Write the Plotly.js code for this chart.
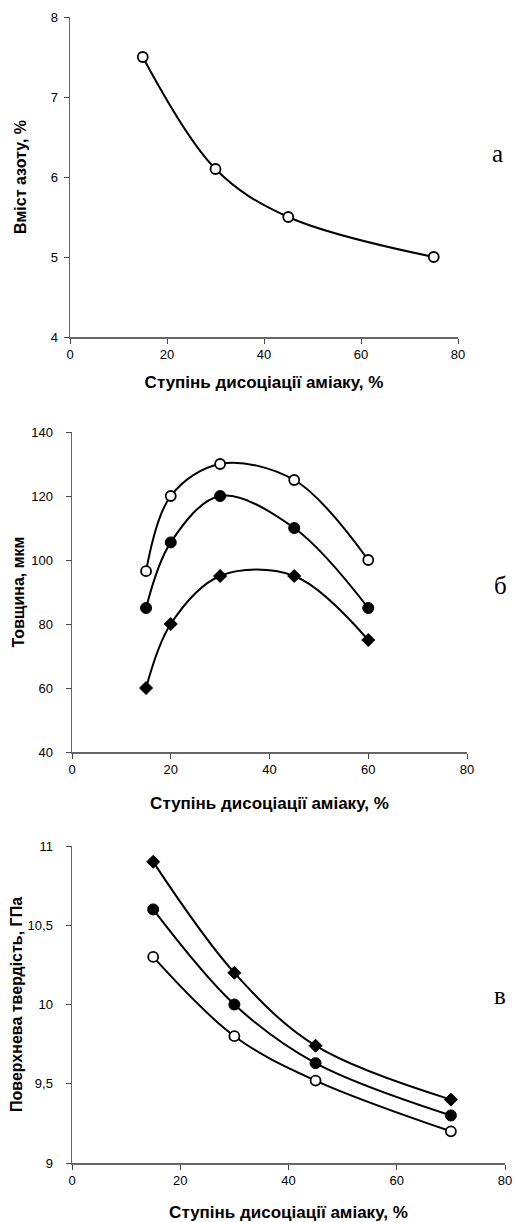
<!DOCTYPE html>
<html><head><meta charset="utf-8">
<script src="https://cdn.plot.ly/plotly-3.0.1.min.js"></script>
<style>html,body{margin:0;padding:0;background:#fff}#chart{width:515px;height:1222px}</style>
</head><body><div id="chart"></div>
<script>
// Chart a
const xA = [15, 30, 45, 75];
const yA = [7.5, 6.1, 5.5, 5.0];
// Chart б
const xB = [15, 20, 30, 45, 60];
const yBopen = [96.5, 120, 130, 125, 100];
const yBfilled = [85, 105.5, 120, 110, 85];
const yBdiamond = [60, 80, 95, 95, 75];
// Chart в
const xC = [15, 30, 45, 70];
const yCdiamond = [10.9, 10.2, 9.74, 9.4];
const yCfilled = [10.6, 10.0, 9.63, 9.3];
const yCopen = [10.3, 9.8, 9.52, 9.2];

const xTitle = 'Ступінь дисоціації аміаку, %';
const yTitles = ['Вміст азоту, %', 'Товщина, мкм', 'Поверхнева твердість, ГПа'];
const panelLabels = ['а', 'б', 'в'];

const lineStyle = {color: '#000', width: 2, shape: 'spline', smoothing: 1};
const openM = {symbol: 'circle', size: 10, color: '#fff', line: {color: '#000', width: 1.8}};
const filledM = {symbol: 'circle', size: 11, color: '#000', line: {color: '#000', width: 1}};
const diaM = {symbol: 'diamond', size: 10, color: '#000', line: {color: '#000', width: 1}};

function tr(x, y, marker, ax) {
  return {x: x, y: y, mode: 'lines+markers', line: lineStyle, marker: marker,
          xaxis: 'x' + ax, yaxis: 'y' + ax, showlegend: false, cliponaxis: false};
}
const data = [
  tr(xA, yA, openM, ''),
  tr(xB, yBopen, openM, '2'),
  tr(xB, yBfilled, filledM, '2'),
  tr(xB, yBdiamond, diaM, '2'),
  tr(xC, yCdiamond, diaM, '3'),
  tr(xC, yCfilled, filledM, '3'),
  tr(xC, yCopen, openM, '3')
];

const tickFont = {family: 'Liberation Sans, Arial, sans-serif', size: 13, color: '#000'};
const xTitleFont = {family: 'Liberation Sans, Arial, sans-serif', size: 17, color: '#000', weight: 'bold'};
const yTitleFont = {family: 'Liberation Sans, Arial, sans-serif', size: 16, color: '#000', weight: 'bold'};

function xax(dom, anchor, standoff) {
  return {domain: dom, anchor: anchor, range: [0, 80], tickvals: [0, 20, 40, 60, 80],
    showgrid: false, zeroline: false, showline: true, linecolor: '#666', linewidth: 1.5,
    ticks: 'outside', ticklen: 5, tickcolor: '#444', tickfont: tickFont,
    title: {text: '<b>' + xTitle + '</b>', font: xTitleFont, standoff: standoff}, automargin: false};
}
function yax(dom, anchor, range, tv, tt, title, standoff, lblOff) {
  const o = {domain: dom, anchor: anchor, range: range, tickvals: tv,
    showgrid: false, zeroline: false, showline: true, linecolor: '#666', linewidth: 1.5,
    ticks: 'outside', ticklen: 5, tickcolor: '#444', tickfont: tickFont, ticklabelstandoff: lblOff,
    title: {text: '<b>' + title + '</b>', font: yTitleFont, standoff: standoff}, automargin: false};
  if (tt) o.ticktext = tt;
  return o;
}

const layout = {
  width: 515, height: 1222,
  margin: {l: 0, r: 0, t: 0, b: 0},
  paper_bgcolor: '#fff', plot_bgcolor: '#fff',
  separators: ', ',
  xaxis: xax([70/515, 458/515], 'y', 15),
  yaxis: yax([1 - 337/1222, 1 - 17/1222], 'x', [4, 8], [4, 5, 6, 7, 8], null, yTitles[0], 20, 3),
  xaxis2: xax([72/515, 467/515], 'y2', 21),
  yaxis2: yax([1 - 752/1222, 1 - 432/1222], 'x2', [40, 140], [40, 60, 80, 100, 120, 140], null, yTitles[1], 2, 10),
  xaxis3: xax([72/515, 505/515], 'y3', 19),
  yaxis3: yax([1 - 1163/1222, 1 - 846/1222], 'x3', [9, 11], [9, 9.5, 10, 10.5, 11], ['9', '9,5', '10', '10,5', '11'], yTitles[2], 1, 10),
  annotations: [
    {text: panelLabels[0], x: 497/515, y: 1 - 153/1222},
    {text: panelLabels[1], x: 500/515, y: 1 - 585/1222},
    {text: panelLabels[2], x: 500/515, y: 1 - 995/1222}
  ].map(a => Object.assign(a, {xref: 'paper', yref: 'paper', showarrow: false,
    xanchor: 'center', yanchor: 'middle',
    font: {family: 'Liberation Serif, Times New Roman, serif', size: 25, color: '#000'}}))
};

Plotly.newPlot('chart', data, layout, {displayModeBar: false, staticPlot: true});
</script></body></html>
